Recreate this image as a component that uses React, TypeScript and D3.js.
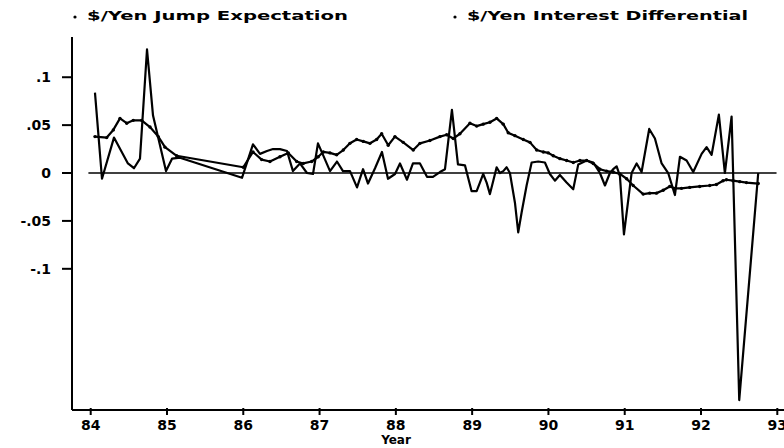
import React from "react";
import * as d3 from "d3";

const legendLabels: string[] = ["$/Yen Jump Expectation", "$/Yen Interest Differential"];
const xTickYears: number[] = [84, 85, 86, 87, 88, 89, 90, 91, 92, 93];
const yTickValues: number[] = [0.1, 0.05, 0, -0.05, -0.1];
const yTickLabels: string[] = [".1", ".05", "0", "-.05", "-.1"];
const xAxisTitle = "Year";

// [year, value]
const jumpExpectation: [number, number][] = [
  [84.056, 0.084], [84.148, -0.006], [84.305, 0.037], [84.488, 0.010], [84.567, 0.005],
  [84.646, 0.015], [84.738, 0.129], [84.817, 0.060], [84.987, 0.002], [85.066, 0.015],
  [85.170, 0.016], [85.983, -0.005], [86.127, 0.030], [86.219, 0.020], [86.311, 0.023],
  [86.390, 0.025], [86.481, 0.025], [86.573, 0.023], [86.651, 0.002], [86.743, 0.010],
  [86.835, 0.000], [86.914, -0.001], [86.979, 0.031], [87.045, 0.019], [87.137, 0.002],
  [87.228, 0.012], [87.307, 0.002], [87.399, 0.002], [87.491, -0.015], [87.570, 0.004],
  [87.635, -0.011], [87.727, 0.005], [87.818, 0.022], [87.897, -0.006], [87.989, -0.001],
  [88.054, 0.010], [88.146, -0.007], [88.224, 0.010], [88.316, 0.010], [88.408, -0.004],
  [88.486, -0.004], [88.578, 0.001], [88.644, 0.004], [88.735, 0.066], [88.814, 0.009],
  [88.906, 0.008], [88.993, -0.019], [89.059, -0.019], [89.102, -0.010], [89.145, -0.001],
  [89.190, -0.010], [89.233, -0.022], [89.277, -0.008], [89.321, 0.006], [89.364, 0.000],
  [89.408, 0.002], [89.452, 0.006], [89.495, 0.000], [89.561, -0.031], [89.604, -0.062],
  [89.649, -0.041], [89.714, -0.013], [89.780, 0.011], [89.866, 0.012], [89.954, 0.011],
  [90.019, -0.001], [90.085, -0.008], [90.150, -0.002], [90.238, -0.010], [90.325, -0.017],
  [90.391, 0.009], [90.501, 0.013], [90.587, 0.011], [90.675, 0.000], [90.741, -0.013],
  [90.806, 0.000], [90.849, 0.004], [90.894, 0.007], [90.937, -0.003], [90.990, -0.064],
  [91.090, 0.000], [91.156, 0.010], [91.221, 0.001], [91.321, 0.046], [91.396, 0.036],
  [91.484, 0.010], [91.570, 0.000], [91.658, -0.023], [91.724, 0.017], [91.811, 0.013],
  [91.898, 0.001], [92.008, 0.020], [92.073, 0.027], [92.139, 0.019], [92.234, 0.061],
  [92.313, 0.000], [92.401, 0.059], [92.501, -0.237], [92.750, 0.000],
];

const interestDifferential: [number, number][] = [
  [84.056, 0.038], [84.210, 0.037], [84.296, 0.045], [84.384, 0.057], [84.472, 0.052],
  [84.558, 0.055], [84.668, 0.055], [84.777, 0.048], [84.886, 0.038], [84.974, 0.027],
  [85.127, 0.018], [86.000, 0.006], [86.127, 0.022], [86.241, 0.014], [86.350, 0.012],
  [86.481, 0.017], [86.590, 0.021], [86.700, 0.012], [86.786, 0.010], [86.896, 0.012],
  [86.983, 0.017], [87.048, 0.022], [87.136, 0.021], [87.224, 0.019], [87.311, 0.024],
  [87.398, 0.031], [87.486, 0.035], [87.573, 0.033], [87.661, 0.031], [87.748, 0.035],
  [87.814, 0.041], [87.900, 0.029], [87.988, 0.038], [88.097, 0.032], [88.228, 0.024],
  [88.316, 0.031], [88.447, 0.034], [88.578, 0.038], [88.666, 0.040], [88.752, 0.036],
  [88.840, 0.041], [88.971, 0.052], [89.059, 0.049], [89.145, 0.051], [89.233, 0.053],
  [89.321, 0.057], [89.408, 0.051], [89.473, 0.042], [89.561, 0.039], [89.670, 0.035],
  [89.758, 0.032], [89.846, 0.024], [89.933, 0.022], [89.998, 0.021], [90.063, 0.018],
  [90.151, 0.015], [90.239, 0.013], [90.326, 0.011], [90.413, 0.013], [90.501, 0.013],
  [90.587, 0.010], [90.675, 0.004], [90.763, 0.002], [90.849, 0.001], [90.937, -0.001],
  [91.025, -0.006], [91.111, -0.013], [91.242, -0.022], [91.328, -0.021], [91.416, -0.021],
  [91.504, -0.018], [91.590, -0.014], [91.656, -0.016], [91.744, -0.016], [91.852, -0.015],
  [91.983, -0.014], [92.114, -0.013], [92.202, -0.012], [92.289, -0.008], [92.333, -0.007],
  [92.420, -0.008], [92.508, -0.009], [92.596, -0.010], [92.750, -0.011],
];

const W = 784;
const H = 448;
const FONT = "'DejaVu Sans', 'Liberation Sans', sans-serif";

export default function App() {
  const x = d3.scaleLinear().domain([84, 93]).range([90.7, 777.3]);
  const y = d3.scaleLinear().domain([-0.2474, 0.142]).range([410, 37]);
  const line = d3
    .line<[number, number]>()
    .x((d) => x(d[0]))
    .y((d) => y(d[1]));

  const axisLeft = 72;
  const axisBottom = 410;

  return (
    <svg
      width={W}
      height={H}
      style={{ position: "absolute", left: 0, top: 0, background: "#fff" }}
      fontFamily={FONT}
    >
      <rect x={0} y={0} width={W} height={H} fill="#fff" />
      {/* legend */}
      <circle cx={75} cy={17} r={1.6} fill="#000" />
      <text x={87} y={20} fontSize={13} fontWeight="bold" textLength={261} lengthAdjust="spacingAndGlyphs">
        {legendLabels[0]}
      </text>
      <circle cx={455} cy={17} r={1.6} fill="#000" />
      <text x={467} y={20} fontSize={13} fontWeight="bold" textLength={281} lengthAdjust="spacingAndGlyphs">
        {legendLabels[1]}
      </text>

      {/* axes */}
      <line x1={axisLeft} y1={37} x2={axisLeft} y2={axisBottom} stroke="#000" strokeWidth={2} />
      <line x1={axisLeft} y1={axisBottom} x2={W} y2={axisBottom} stroke="#000" strokeWidth={2} />
      {yTickValues.map((v, i) => (
        <g key={"yt" + i}>
          <line x1={62} x2={axisLeft} y1={y(v)} y2={y(v)} stroke="#000" strokeWidth={2} />
          <text x={51} y={y(v) + 5} fontSize={14} fontWeight="bold" textAnchor="end">
            {yTickLabels[i]}
          </text>
        </g>
      ))}
      {xTickYears.map((t) => (
        <g key={"xt" + t}>
          <line x1={x(t)} x2={x(t)} y1={axisBottom - 2} y2={axisBottom + 5} stroke="#000" strokeWidth={2} />
          <text x={x(t)} y={430} fontSize={14} fontWeight="bold" textAnchor="middle">
            {String(t)}
          </text>
        </g>
      ))}
      <text x={396} y={444} fontSize={12} fontWeight="bold" textAnchor="middle">
        {xAxisTitle}
      </text>

      {/* zero line */}
      <line x1={x(83.97)} x2={x(92.99)} y1={y(0)} y2={y(0)} stroke="#000" strokeWidth={1.6} />

      {/* series */}
      <path d={line(interestDifferential) || ""} fill="none" stroke="#000" strokeWidth={2.2} strokeLinejoin="round" />
      {interestDifferential.map((d, i) => (
        <circle key={"p" + i} cx={x(d[0])} cy={y(d[1])} r={1.7} fill="#000" />
      ))}
      <path d={line(jumpExpectation) || ""} fill="none" stroke="#000" strokeWidth={2.2} strokeLinejoin="round" />
    </svg>
  );
}
